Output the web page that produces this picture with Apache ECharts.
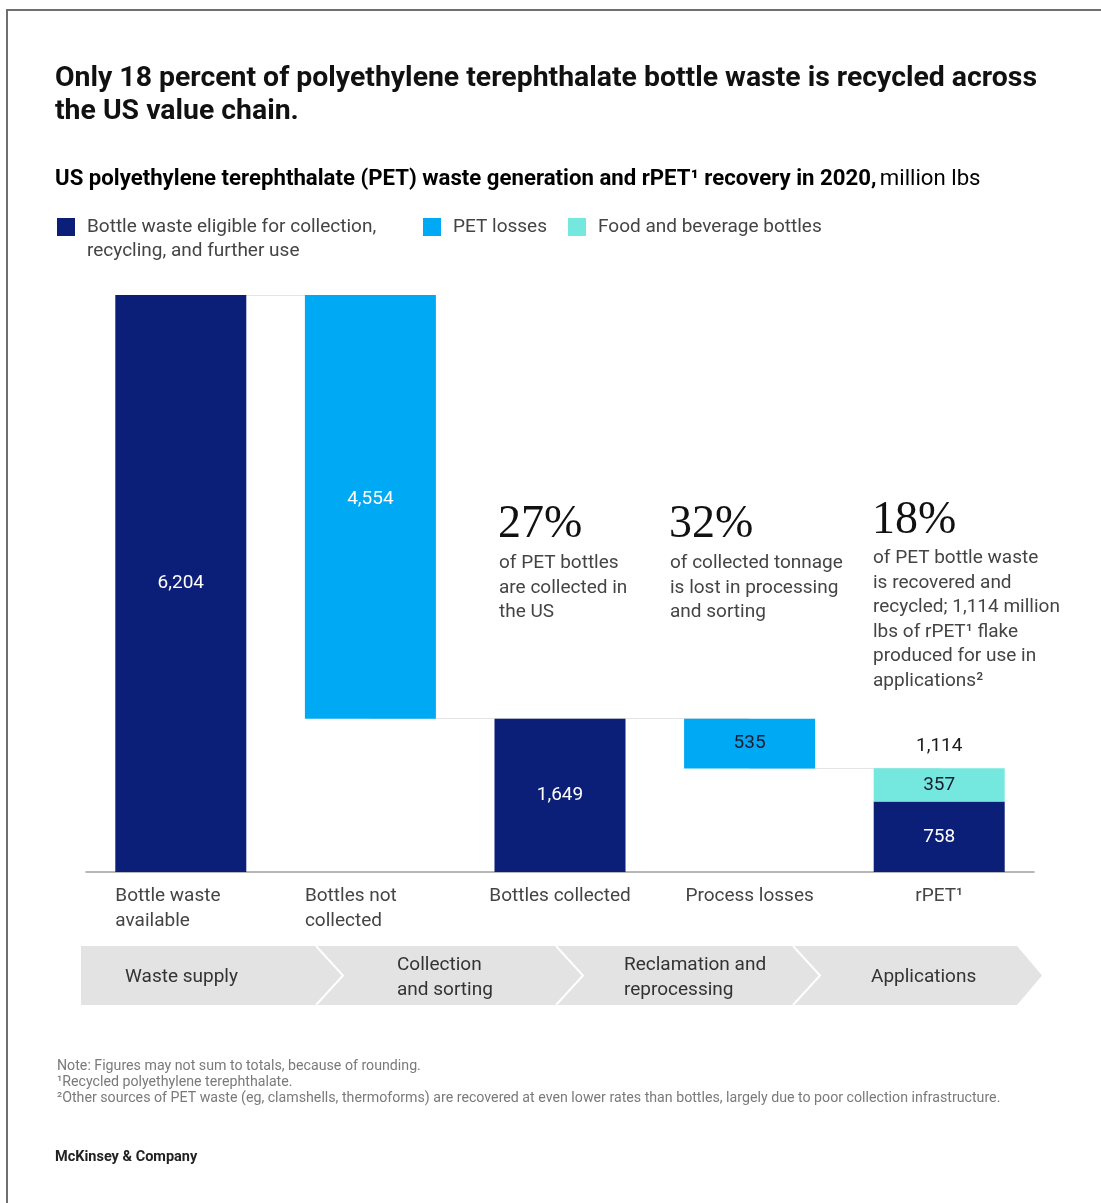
<!DOCTYPE html>
<html><head><meta charset="utf-8">
<script src="https://cdn.jsdelivr.net/npm/echarts@6/dist/echarts.min.js"></script>
<style>html,body{margin:0;padding:0;background:#fff}#c{width:1101px;height:1203px}</style>
</head><body><div id="c"></div>
<script>
const categories = ['Bottle waste\navailable', 'Bottles not\ncollected', 'Bottles collected', 'Process losses', 'rPET¹'];
const baseValues = [0, 1649, 0, 1114, 0];
const eligibleValues = [6204, '-', 1649, '-', 758];
const lossValues = ['-', 4554, '-', 535, '-'];
const foodValues = ['-', '-', '-', '-', 357];
const rpetTotal = 1114;
const seriesNames = ['Bottle waste eligible for collection,\nrecycling, and further use', 'PET losses', 'Food and beverage bottles'];
const stages = ['Waste supply', 'Collection\nand sorting', 'Reclamation and\nreprocessing', 'Applications'];

const SANS = 'Roboto, "Liberation Sans", sans-serif';
const SERIF = '"Liberation Serif", "DejaVu Serif", serif';
const NAVY = '#0b1e78', BLUE = '#00a9f4', TEAL = '#74e8de';

const fmt = v => Number(v).toLocaleString('en-US');

const chart = echarts.init(document.getElementById('c'), null, {renderer: 'canvas', width: 1101, height: 1203});

const labelWhite = {show: true, position: 'inside', color: '#fff', fontSize: 19, fontFamily: SANS, formatter: p => fmt(p.value)};

const option = {
  backgroundColor: '#fff',
  animation: false,
  grid: {left: 86, right: 67, top: 295, bottom: 331, containLabel: false},
  legend: {
    left: 57, top: 191, padding: 0, orient: 'horizontal', itemGap: 0, itemWidth: 18, itemHeight: 18, icon: 'rect',
    selectedMode: false,
    formatter: name => name === seriesNames[0] ? '\n' + name : name,
    textStyle: {fontSize: 19, color: '#444', fontFamily: SANS, lineHeight: 24},
    data: [
      {name: seriesNames[0], textStyle: {width: 336, padding: [0, 0, 0, 7]}},
      {name: seriesNames[1], textStyle: {width: 115, padding: [0, 0, 0, 7]}},
      {name: seriesNames[2], textStyle: {padding: [0, 0, 0, 7]}}
    ]
  },
  xAxis: {
    type: 'category', data: categories,
    axisLine: {lineStyle: {color: '#a0a0a0', width: 1.5}},
    axisTick: {show: false},
    axisLabel: {
      interval: 0, margin: 12,
      formatter: (v, i) => (i < 2 ? '{l|' : '{c|') + v + '}',
      rich: {
        l: {width: 131, align: 'left', fontSize: 19, lineHeight: 25, color: '#444', fontFamily: SANS},
        c: {width: 131, align: 'center', fontSize: 19, lineHeight: 25, color: '#444', fontFamily: SANS}
      }
    }
  },
  yAxis: {type: 'value', min: 0, max: 6204, show: false, splitLine: {show: false}},
  series: [
    {
      name: 'base', type: 'bar', stack: 'w', barWidth: 131, data: baseValues,
      itemStyle: {color: 'rgba(0,0,0,0)'}, silent: true,
      markLine: {
        silent: true, symbol: 'none', z: 1, label: {show: false},
        lineStyle: {color: '#e4e4e4', width: 1, type: 'solid'},
        data: [
          [{coord: [0, eligibleValues[0]]}, {coord: [1, eligibleValues[0]]}],
          [{coord: [1, eligibleValues[2]]}, {coord: [3, eligibleValues[2]]}],
          [{coord: [3, rpetTotal]}, {coord: [4, rpetTotal]}]
        ]
      }
    },
    {
      name: seriesNames[0], type: 'bar', stack: 'w', barWidth: 131, data: eligibleValues,
      itemStyle: {color: NAVY}, label: labelWhite
    },
    {
      name: seriesNames[1], type: 'bar', stack: 'w', barWidth: 131, itemStyle: {color: BLUE},
      data: lossValues.map((v, i) => i === 1 ? {value: v, label: {offset: [0, -8]}} : (v === '-' ? v : {value: v, label: {color: '#1a1a2e'}})),
      label: labelWhite
    },
    {
      name: seriesNames[2], type: 'bar', stack: 'w', barWidth: 131, data: foodValues,
      itemStyle: {color: TEAL}, label: Object.assign({}, labelWhite, {color: '#1a1a2e'})
    },
    {
      name: 'total', type: 'bar', stack: 'w', barWidth: 131,
      data: foodValues.map(v => v === '-' ? '-' : 0),
      itemStyle: {color: 'rgba(0,0,0,0)'},
      label: {show: true, position: 'top', distance: 13, color: '#1a1a1a', fontSize: 19, fontFamily: SANS, formatter: () => fmt(rpetTotal)}
    }
  ],
  graphic: [
    {type: 'rect', silent: true, shape: {x: 7, y: 10, width: 1200, height: 1300}, style: {fill: 'none', stroke: '#6f6f6f', lineWidth: 2}, z: 100},
    {type: 'text', left: 55, top: 62, style: {text: 'Only 18 percent of polyethylene terephthalate bottle waste is recycled across\nthe US value chain.', font: 'bold 28.4px ' + SANS, fill: '#111', lineHeight: 33}},
    {type: 'text', x: 55, y: 179, style: {
      text: '{b|US polyethylene terephthalate (PET) waste generation and rPET¹ recovery in 2020,} {n|million lbs}',
      verticalAlign: 'middle',
      rich: {b: {fontSize: 22.2, fontWeight: 'bold', fontFamily: SANS, color: '#111'}, n: {fontSize: 22.2, fontFamily: SANS, color: '#555'}}
    }},
    // annotations
    {type: 'text', x: 498, y: 525, style: {text: '27%', font: '46px ' + SERIF, fill: '#111', verticalAlign: 'middle'}},
    {type: 'text', x: 499, y: 551, style: {text: 'of PET bottles\nare collected in\nthe US', font: '19px ' + SANS, fill: '#444', lineHeight: 24.5, verticalAlign: 'top'}},
    {type: 'text', x: 669, y: 525, style: {text: '32%', font: '46px ' + SERIF, fill: '#111', verticalAlign: 'middle'}},
    {type: 'text', x: 670, y: 551, style: {text: 'of collected tonnage\nis lost in processing\nand sorting', font: '19px ' + SANS, fill: '#444', lineHeight: 24.5, verticalAlign: 'top'}},
    {type: 'text', x: 872, y: 521, style: {text: '18%', font: '46px ' + SERIF, fill: '#111', verticalAlign: 'middle'}},
    {type: 'text', x: 873, y: 546, style: {text: 'of PET bottle waste\nis recovered and\nrecycled; 1,114 million\nlbs of rPET¹ flake\nproduced for use in\napplications²', font: '19px ' + SANS, fill: '#444', lineHeight: 24.6, verticalAlign: 'top'}},
    // process band
    {type: 'polygon', silent: true, shape: {points: [[81, 946], [1017, 946], [1042, 975.5], [1017, 1005], [81, 1005]]}, style: {fill: '#e3e3e3'}},
    {type: 'polyline', silent: true, shape: {points: [[316, 946], [343, 975.5], [316, 1005]]}, style: {stroke: '#fff', lineWidth: 2, fill: 'none'}},
    {type: 'polyline', silent: true, shape: {points: [[556, 946], [583, 975.5], [556, 1005]]}, style: {stroke: '#fff', lineWidth: 2, fill: 'none'}},
    {type: 'polyline', silent: true, shape: {points: [[793, 946], [820, 975.5], [793, 1005]]}, style: {stroke: '#fff', lineWidth: 2, fill: 'none'}},
    {type: 'text', x: 125, y: 977, style: {text: stages[0], font: '19px ' + SANS, fill: '#333', verticalAlign: 'middle', lineHeight: 25}},
    {type: 'text', x: 397, y: 978, style: {text: stages[1], font: '19px ' + SANS, fill: '#333', verticalAlign: 'middle', lineHeight: 25}},
    {type: 'text', x: 624, y: 978, style: {text: stages[2], font: '19px ' + SANS, fill: '#333', verticalAlign: 'middle', lineHeight: 25}},
    {type: 'text', x: 871, y: 977, style: {text: stages[3], font: '19px ' + SANS, fill: '#333', verticalAlign: 'middle', lineHeight: 25}},
    // notes
    {type: 'text', x: 57, y: 1058, style: {text: 'Note: Figures may not sum to totals, because of rounding.\n¹Recycled polyethylene terephthalate.\n²Other sources of PET waste (eg, clamshells, thermoforms) are recovered at even lower rates than bottles, largely due to poor collection infrastructure.', font: '14.2px ' + SANS, fill: '#7a7a7a', lineHeight: 16, verticalAlign: 'top'}},
    {type: 'text', x: 55, y: 1157, style: {text: 'McKinsey & Company', font: 'bold 14.5px ' + SANS, fill: '#222', verticalAlign: 'middle'}}
  ]
};
chart.setOption(option);
</script></body></html>
